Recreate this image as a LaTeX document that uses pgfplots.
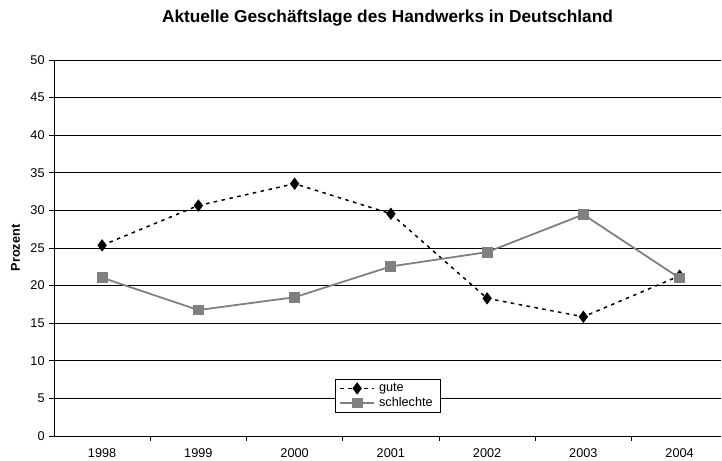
\documentclass[border=0pt]{standalone}
\usepackage{fontspec}
\setmainfont{Liberation Sans}
\usepackage{pgfplots}
\pgfplotsset{compat=1.18}
\definecolor{sgray}{RGB}{128,128,128}
\begin{document}
\fontsize{12.7bp}{15bp}\selectfont
\begin{tikzpicture}
\begin{axis}[
 name=ax,
 scale only axis,
 width=667bp, height=376bp,
 xmin=-0.5, xmax=6.43,
 ymin=0, ymax=50,
 ytick={0,5,...,50},
 ymajorgrids,
 grid style={black, line width=0.7bp},
 axis lines*=left,
 axis line style={black, line width=0.9bp},
 tick align=outside,
 major tick length=5bp,
 tick style={black, line width=0.9bp},
 xtick={0.5,1.5,...,5.5},
 xticklabels={},
 extra x ticks={0,1,2,3,4,5,6},
 extra x tick labels={1998,1999,2000,2001,2002,2003,2004},
 extra x tick style={major tick length=0pt, grid=none, tick label style={yshift=-8bp}},
 /pgf/number format/assume math mode=true,
 tick label style={font=\fontsize{12.7bp}{15bp}\selectfont},
 title={\bfseries\fontsize{17.3bp}{20bp}\selectfont Aktuelle Geschäftslage des Handwerks in Deutschland},
 title style={at={(0.5,1)}, anchor=base, yshift=32bp},
 ylabel={\bfseries Prozent},
 ylabel style={at={(axis description cs:-0.0577,0.5)}, anchor=center},
 legend style={at={(0.421,0.061)}, anchor=south west, draw=black, line width=0.9bp,
   font=\fontsize{12.7bp}{15bp}\selectfont, inner xsep=4bp, inner ysep=2bp, row sep=0bp,
   nodes={inner ysep=2bp, inner xsep=4bp, anchor=west}},
 legend cell align=left,
 legend image code/.code={\draw[mark repeat=2,mark phase=2,#1] plot coordinates {(0bp,0bp) (17bp,0bp) (34bp,0bp)};},
]
\addplot[black, line width=1.5bp, dash pattern=on 3.5bp off 4.5bp, mark=diamond*, mark size=5bp, mark options={solid, fill=black}]
 coordinates {(0,25.35) (1,30.65) (2,33.55) (3,29.55) (4,18.3) (5,15.85) (6,21.3)};
\addlegendentry{gute}
\addplot[sgray, line width=1.8bp, mark=square*, mark size=4.5bp, mark options={solid, fill=sgray}]
 coordinates {(0,21.05) (1,16.75) (2,18.45) (3,22.55) (4,24.45) (5,29.45) (6,21.0)};
\addlegendentry{schlechte}
\end{axis}
\pgfresetboundingbox
\path[use as bounding box] ([xshift=-54bp,yshift=-25bp]ax.south west) rectangle ([xshift=1bp,yshift=60bp]ax.north east);
\end{tikzpicture}
\end{document}
